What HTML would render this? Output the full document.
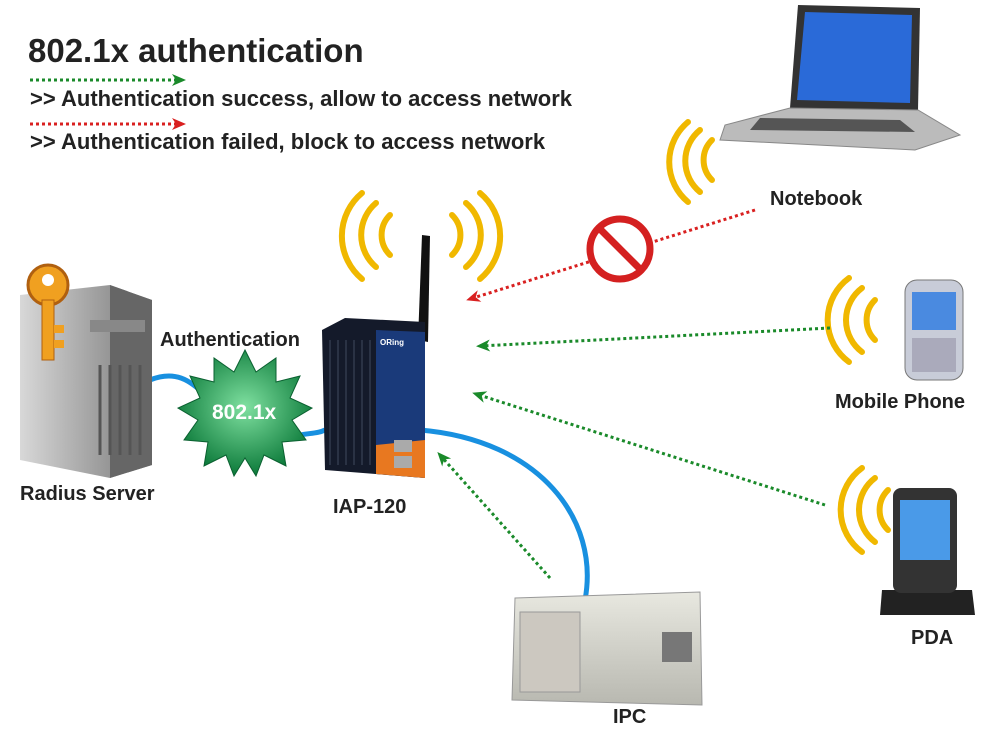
<!DOCTYPE html>
<html><head><meta charset="utf-8"><style>
html,body{margin:0;padding:0;background:#fff}
svg{display:block}
text{font-family:"Liberation Sans",sans-serif;font-weight:bold;fill:#222}
</style></head><body>
<svg width="1000" height="729" viewBox="0 0 1000 729" xmlns="http://www.w3.org/2000/svg">
<defs>
<marker id="ag" markerUnits="userSpaceOnUse" markerWidth="14" markerHeight="14" refX="10" refY="7" orient="auto"><path d="M0,1 L14,7 L0,13 L4,7z" fill="#1a8a2a"/></marker>
<marker id="ar" markerUnits="userSpaceOnUse" markerWidth="14" markerHeight="14" refX="10" refY="7" orient="auto"><path d="M0,1 L14,7 L0,13 L4,7z" fill="#d92020"/></marker>
<radialGradient id="star" cx="50%" cy="45%" r="55%"><stop offset="0" stop-color="#7fe0a0"/><stop offset="1" stop-color="#0c7a3a"/></radialGradient>
<linearGradient id="srv" x1="0" x2="1"><stop offset="0" stop-color="#d8d8d8"/><stop offset="1" stop-color="#777"/></linearGradient>
<linearGradient id="ipc" x1="0" y1="0" x2="0" y2="1"><stop offset="0" stop-color="#e8e8e0"/><stop offset="1" stop-color="#b8b8b0"/></linearGradient>
</defs>

<text x="28" y="62" font-size="33" fill="#111">802.1x authentication</text>
<line x1="30" y1="80" x2="182" y2="80" stroke="#1a8a2a" stroke-width="3" stroke-dasharray="3,3" marker-end="url(#ag)"/>
<text x="30" y="106" font-size="22">&gt;&gt; Authentication success, allow to  access network</text>
<line x1="30" y1="124" x2="182" y2="124" stroke="#d92020" stroke-width="3" stroke-dasharray="3,3" marker-end="url(#ar)"/>
<text x="30" y="149" font-size="22">&gt;&gt; Authentication failed,  block to  access network</text>

<g fill="none" stroke="#f0b800" stroke-width="6" stroke-linecap="round">
 <path d="M712,140 a28,28 0 0 0 0,40"/><path d="M700,130 a40,40 0 0 0 0,62"/><path d="M688,122 a52,52 0 0 0 0,80"/>
 <path d="M390,215 a28,28 0 0 0 0,40"/><path d="M376,203 a42,42 0 0 0 0,64"/><path d="M362,193 a56,56 0 0 0 0,86"/>
 <path d="M452,215 a28,28 0 0 1 0,40"/><path d="M466,203 a42,42 0 0 1 0,64"/><path d="M480,193 a56,56 0 0 1 0,86"/>
 <path d="M875,300 a28,28 0 0 0 0,40"/><path d="M862,288 a40,40 0 0 0 0,64"/><path d="M849,278 a52,52 0 0 0 0,84"/>
 <path d="M888,490 a28,28 0 0 0 0,40"/><path d="M875,478 a40,40 0 0 0 0,64"/><path d="M862,468 a52,52 0 0 0 0,84"/>
</g>

<path d="M798,5 L920,8 L918,110 L790,108z" fill="#333"/>
<path d="M805,12 L912,15 L910,103 L797,100z" fill="#2a6ad8"/>
<path d="M790,108 L918,110 L960,135 L915,150 L720,140 L725,125z" fill="#bbb" stroke="#888"/>
<path d="M760,118 L900,120 L915,132 L750,130z" fill="#555"/>
<text x="770" y="205" font-size="20">Notebook</text>

<line x1="755" y1="210" x2="470" y2="299" stroke="#d92020" stroke-width="3" stroke-dasharray="3,3" marker-end="url(#ar)"/>
<circle cx="620" cy="249" r="30" fill="#fff" stroke="#d42020" stroke-width="7"/>
<line x1="600" y1="229" x2="640" y2="269" stroke="#d42020" stroke-width="7"/>

<rect x="905" y="280" width="58" height="100" rx="12" fill="#c8ccd8" stroke="#777"/>
<rect x="912" y="292" width="44" height="38" fill="#4a8ae0"/>
<rect x="912" y="338" width="44" height="34" fill="#aab"/>
<text x="835" y="408" font-size="20">Mobile Phone</text>
<line x1="830" y1="328" x2="480" y2="346" stroke="#1a8a2a" stroke-width="3" stroke-dasharray="3,3" marker-end="url(#ag)"/>

<path d="M882,590 L972,590 L975,615 L880,615z" fill="#222"/>
<rect x="893" y="488" width="64" height="105" rx="8" fill="#333"/>
<rect x="900" y="500" width="50" height="60" fill="#4a9ae8"/>
<text x="911" y="644" font-size="20">PDA</text>
<line x1="825" y1="505" x2="476" y2="394" stroke="#1a8a2a" stroke-width="3" stroke-dasharray="3,3" marker-end="url(#ag)"/>

<path d="M420,430 C540,440 600,520 585,600" fill="none" stroke="#1890e0" stroke-width="5"/>
<line x1="550" y1="578" x2="440" y2="455" stroke="#1a8a2a" stroke-width="3" stroke-dasharray="3,3" marker-end="url(#ag)"/>
<path d="M515,598 L700,592 L702,705 L512,700z" fill="url(#ipc)" stroke="#999"/>
<rect x="520" y="612" width="60" height="80" fill="#ccc8c0" stroke="#999"/>
<rect x="662" y="632" width="30" height="30" fill="#777"/>
<text x="613" y="723" font-size="20">IPC</text>

<path d="M150,380 C175,370 190,380 205,395" fill="none" stroke="#1890e0" stroke-width="5"/>
<path d="M290,438 C305,432 315,435 325,430" fill="none" stroke="#1890e0" stroke-width="5"/>

<path d="M20,295 L110,285 L152,300 L152,465 L110,478 L20,460z" fill="url(#srv)"/>
<path d="M110,285 L152,300 L152,465 L110,478z" fill="#666"/>
<rect x="90" y="320" width="55" height="12" fill="#888"/>
<g stroke="#555" stroke-width="3"><line x1="100" y1="365" x2="100" y2="455"/><line x1="110" y1="365" x2="110" y2="455"/><line x1="120" y1="365" x2="120" y2="455"/><line x1="130" y1="365" x2="130" y2="455"/><line x1="140" y1="365" x2="140" y2="455"/></g>
<circle cx="48" cy="285" r="20" fill="#f0a020" stroke="#b06010" stroke-width="3"/>
<circle cx="48" cy="280" r="6" fill="#fff"/>
<rect x="42" y="300" width="12" height="60" fill="#f0a020" stroke="#b06010"/>
<rect x="54" y="325" width="10" height="8" fill="#f0a020"/><rect x="54" y="340" width="10" height="8" fill="#f0a020"/>
<text x="20" y="500" font-size="20">Radius Server</text>

<polygon fill="url(#star)" stroke="#0a6030" points="245,350 256,372 276,358 276,382 300,376 290,398 312,408 292,420 306,440 282,442 286,466 264,455 256,476 245,458 234,476 226,455 204,466 208,442 184,440 198,420 178,408 200,398 190,376 214,382 214,358 234,372"/>
<text x="212" y="419" font-size="21" style="fill:#fff">802.1x</text>
<text x="160" y="346" font-size="20">Authentication</text>

<path d="M418,340 L422,235 L430,236 L428,342z" fill="#111"/>
<path d="M322,330 L345,318 L425,322 L425,478 L325,470z" fill="#141a2a"/>
<g stroke="#2a3244" stroke-width="2"><line x1="330" y1="340" x2="330" y2="465"/><line x1="338" y1="340" x2="338" y2="465"/><line x1="346" y1="340" x2="346" y2="465"/><line x1="354" y1="340" x2="354" y2="465"/><line x1="362" y1="340" x2="362" y2="465"/><line x1="370" y1="340" x2="370" y2="465"/></g>
<path d="M376,330 L425,332 L425,478 L376,474z" fill="#1a3a7a"/>
<path d="M376,445 L425,440 L425,478 L376,474z" fill="#e87820"/>
<rect x="394" y="440" width="18" height="12" fill="#aaa"/><rect x="394" y="456" width="18" height="12" fill="#aaa"/>
<text x="380" y="345" font-size="8" style="fill:#fff">ORing</text>
<text x="333" y="513" font-size="20">IAP-120</text>
</svg>
</body></html>
